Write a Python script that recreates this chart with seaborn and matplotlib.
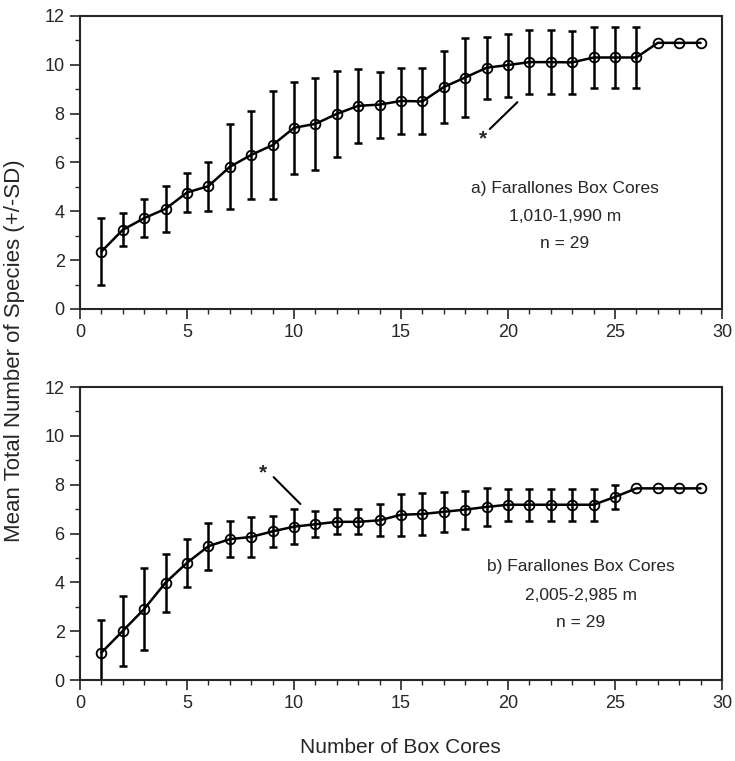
import numpy as np
import pandas as pd
import matplotlib
matplotlib.use("Agg")
import matplotlib.pyplot as plt
from matplotlib.ticker import MultipleLocator
import seaborn as sns

# ---- data ----
box_cores = list(range(1, 30))

mean_a = [2.35, 3.24, 3.72, 4.10, 4.77, 5.03, 5.82, 6.31, 6.71, 7.42,
          7.58, 7.99, 8.32, 8.37, 8.52, 8.50, 9.09, 9.48, 9.88, 9.99,
          10.11, 10.11, 10.10, 10.30, 10.30, 10.30, 10.90, 10.90, 10.90]
sd_a = [1.36, 0.68, 0.79, 0.93, 0.79, 1.00, 1.74, 1.79, 2.20, 1.89,
        1.87, 1.77, 1.51, 1.35, 1.35, 1.35, 1.49, 1.60, 1.26, 1.29,
        1.30, 1.30, 1.30, 1.26, 1.26, 1.26, 0.0, 0.0, 0.0]

mean_b = [1.12, 2.01, 2.91, 3.99, 4.80, 5.48, 5.77, 5.86, 6.09, 6.28,
          6.38, 6.48, 6.48, 6.54, 6.77, 6.80, 6.89, 6.98, 7.09, 7.18,
          7.18, 7.18, 7.18, 7.18, 7.50, 7.85, 7.85, 7.85, 7.85]
sd_b = [1.34, 1.44, 1.68, 1.19, 0.98, 0.97, 0.75, 0.82, 0.64, 0.71,
        0.53, 0.51, 0.51, 0.66, 0.86, 0.87, 0.82, 0.78, 0.77, 0.66,
        0.66, 0.66, 0.66, 0.66, 0.50, 0.0, 0.0, 0.0, 0.0]

label_a = ["a) Farallones Box Cores", "1,010-1,990 m", "n = 29"]
label_b = ["b) Farallones Box Cores", "2,005-2,985 m", "n = 29"]
x_ticks = [0, 5, 10, 15, 20, 25, 30]
y_ticks = [0, 2, 4, 6, 8, 10, 12]

# ---- style ----
sns.set_style("ticks")
plt.rcParams['font.family'] = ['Liberation Sans', 'DejaVu Sans']
plt.rcParams['axes.linewidth'] = 1.5

fig = plt.figure(figsize=(7.35, 7.61), dpi=100)
ax_a = fig.add_axes([0.1088, 0.594, 0.8735, 0.385])
ax_b = fig.add_axes([0.1088, 0.1064, 0.8735, 0.385])


def draw(ax, mean, sd, labels, text_xy, star_xy, star_line):
    df = pd.DataFrame({"x": box_cores, "y": mean, "sd": sd})
    eb = df[df["sd"] > 0]
    ax.errorbar(eb["x"], eb["y"], yerr=eb["sd"], fmt="none", ecolor="black",
                elinewidth=1.8, capsize=3.2, capthick=1.8, zorder=2)
    sns.lineplot(data=df, x="x", y="y", ax=ax, color="black", linewidth=1.8,
                 marker="o", markersize=7, markerfacecolor="none",
                 markeredgecolor="black", markeredgewidth=1.3, zorder=3)
    ax.set_xlim(0, 30)
    ax.set_ylim(0, 12)
    ax.set_xticks(x_ticks)
    ax.set_yticks(y_ticks)
    ax.xaxis.set_minor_locator(MultipleLocator(1))
    ax.yaxis.set_minor_locator(MultipleLocator(1))
    ax.tick_params(which="major", direction="out", length=7.5, width=1.2,
                   labelsize=13, pad=3.5)
    ax.tick_params(which="minor", direction="out", length=3.5, width=1.0)
    for s in ax.spines.values():
        s.set_visible(True)
        s.set_linewidth(1.5)
    ax.set_xlabel("")
    ax.set_ylabel("")
    tx, ty = text_xy
    for i, t in enumerate(labels):
        ax.text(tx, ty[i], t, ha="center", va="center", fontsize=12.5)
    ax.text(star_xy[0], star_xy[1], "*", ha="center", va="center",
            fontsize=15, fontweight="bold")
    (x0, y0), (x1, y1) = star_line
    ax.plot([x0, x1], [y0, y1], color="black", linewidth=1.5)


draw(ax_a, mean_a, sd_a, label_a, (22.65, [4.92, 3.77, 2.70]),
     (18.85, 6.95), ((19.15, 7.37), (20.44, 8.47)))
draw(ax_b, mean_b, sd_b, label_b, (23.4, [4.64, 3.46, 2.36]),
     (8.55, 8.5), ((9.05, 8.31), (10.3, 7.21)))

fig.text(0.02, 0.539, "Mean Total Number of Species (+/-SD)", rotation=90,
         ha="center", va="center", fontsize=16)
fig.text(0.545, 0.018, "Number of Box Cores", ha="center", va="center",
         fontsize=15)

fig.savefig("out.png", dpi=100)
